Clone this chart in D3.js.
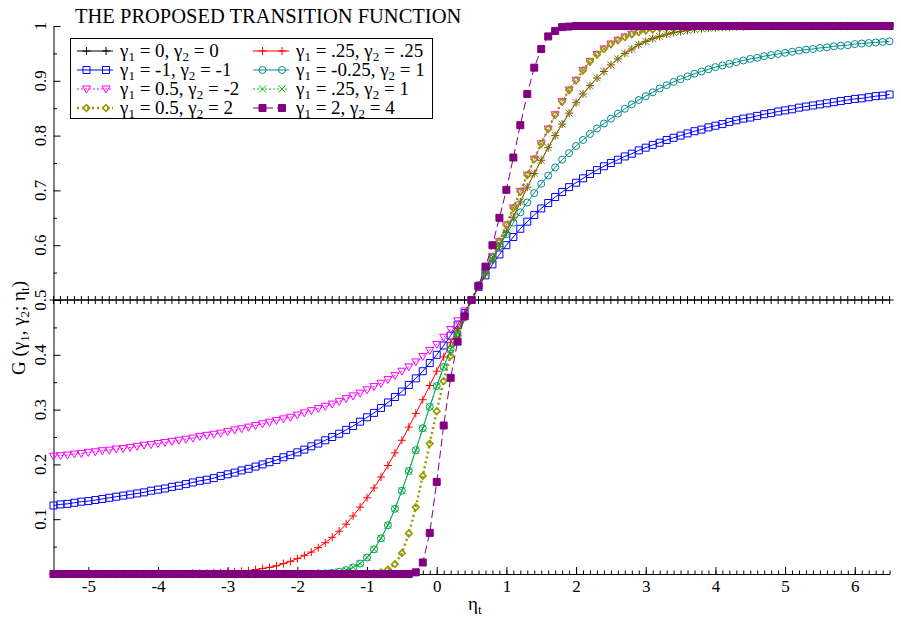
<!DOCTYPE html>
<html>
<head>
<meta charset="utf-8">
<script src="https://d3js.org/d3.v7.min.js"></script>
<style>
  body { margin: 0; background: #fff; }
  svg { display: block; font-family: "Liberation Serif", "Times New Roman", serif; }
</style>
</head>
<body>
<svg id="chart" width="901" height="619"></svg>
<script>
// eta grid (x values of every marker)
var eta = [
 -5.5,-5.4,-5.3,-5.2,-5.1,-5.0,-4.9,-4.8,-4.7,-4.6,
 -4.5,-4.4,-4.3,-4.2,-4.1,-4.0,-3.9,-3.8,-3.7,-3.6,
 -3.5,-3.4,-3.3,-3.2,-3.1,-3.0,-2.9,-2.8,-2.7,-2.6,
 -2.5,-2.4,-2.3,-2.2,-2.1,-2.0,-1.9,-1.8,-1.7,-1.6,
 -1.5,-1.4,-1.3,-1.2,-1.1,-1.0,-0.9,-0.8,-0.7,-0.6,
 -0.5,-0.4,-0.3,-0.2,-0.1,0.0,0.1,0.2,0.3,0.4,
 0.5,
 0.6,0.7,0.8,0.9,1.0,1.1,1.2,1.3,1.4,1.5,
 1.6,1.7,1.8,1.9,2.0,2.1,2.2,2.3,2.4,2.5,
 2.6,2.7,2.8,2.9,3.0,3.1,3.2,3.3,3.4,3.5,
 3.6,3.7,3.8,3.9,4.0,4.1,4.2,4.3,4.4,4.5,
 4.6,4.7,4.8,4.9,5.0,5.1,5.2,5.3,5.4,5.5,
 5.6,5.7,5.8,5.9,6.0,6.1,6.2,6.3,6.4,6.5
];

// gamma1 = 0, gamma2 = 0
var g_0_0 = [
 0.5,0.5,0.5,0.5,0.5,0.5,0.5,0.5,0.5,0.5,
 0.5,0.5,0.5,0.5,0.5,0.5,0.5,0.5,0.5,0.5,
 0.5,0.5,0.5,0.5,0.5,0.5,0.5,0.5,0.5,0.5,
 0.5,0.5,0.5,0.5,0.5,0.5,0.5,0.5,0.5,0.5,
 0.5,0.5,0.5,0.5,0.5,0.5,0.5,0.5,0.5,0.5,
 0.5,0.5,0.5,0.5,0.5,0.5,0.5,0.5,0.5,0.5,
 0.5,
 0.5,0.5,0.5,0.5,0.5,0.5,0.5,0.5,0.5,0.5,
 0.5,0.5,0.5,0.5,0.5,0.5,0.5,0.5,0.5,0.5,
 0.5,0.5,0.5,0.5,0.5,0.5,0.5,0.5,0.5,0.5,
 0.5,0.5,0.5,0.5,0.5,0.5,0.5,0.5,0.5,0.5,
 0.5,0.5,0.5,0.5,0.5,0.5,0.5,0.5,0.5,0.5,
 0.5,0.5,0.5,0.5,0.5,0.5,0.5,0.5,0.5,0.5
];

// gamma1 = -1, gamma2 = -1
var g_m1_m1 = [
 0.125,0.127,0.128,0.130,0.132,0.133,0.135,0.137,0.139,0.141,
 0.143,0.145,0.147,0.149,0.152,0.154,0.156,0.159,0.161,0.164,
 0.167,0.170,0.172,0.175,0.179,0.182,0.185,0.189,0.192,0.196,
 0.200,0.204,0.208,0.213,0.217,0.222,0.227,0.233,0.238,0.244,
 0.250,0.256,0.263,0.270,0.278,0.286,0.294,0.303,0.313,0.323,
 0.333,0.345,0.357,0.370,0.385,0.400,0.417,0.435,0.455,0.476,
 0.500,
 0.524,0.545,0.565,0.583,0.600,0.615,0.630,0.643,0.655,0.667,
 0.677,0.688,0.697,0.706,0.714,0.722,0.730,0.737,0.744,0.750,
 0.756,0.762,0.767,0.773,0.778,0.783,0.787,0.792,0.796,0.800,
 0.804,0.808,0.811,0.815,0.818,0.821,0.825,0.828,0.831,0.833,
 0.836,0.839,0.841,0.844,0.846,0.848,0.851,0.853,0.855,0.857,
 0.859,0.861,0.863,0.865,0.867,0.868,0.870,0.872,0.873,0.875
];

// gamma1 = 0.5, gamma2 = -2
var g_05_m2 = [
 0.215,0.216,0.217,0.219,0.220,0.222,0.223,0.225,0.226,0.228,
 0.229,0.231,0.233,0.235,0.236,0.238,0.240,0.242,0.244,0.246,
 0.248,0.251,0.253,0.255,0.257,0.260,0.263,0.265,0.268,0.271,
 0.274,0.277,0.280,0.283,0.286,0.290,0.294,0.298,0.302,0.306,
 0.310,0.315,0.320,0.325,0.330,0.336,0.342,0.348,0.355,0.362,
 0.370,0.378,0.387,0.397,0.408,0.419,0.432,0.446,0.462,0.480,
 0.500,
 0.525,0.551,0.579,0.607,0.637,0.668,0.698,0.728,0.757,0.785,
 0.812,0.838,0.862,0.883,0.901,0.919,0.935,0.948,0.958,0.967,
 0.974,0.980,0.985,0.989,0.992,0.994,0.996,0.997,0.998,0.998,
 0.999,0.999,1,1,1,1,1,1,1,1,
 1,1,1,1,1,1,1,1,1,1,
 1,1,1,1,1,1,1,1,1,1
];

// gamma1 = 0.5, gamma2 = 2
var g_05_2 = [
 0,0,0,0,0,0,0,0,0,0,
 0,0,0,0,0,0,0,0,0,0,
 0,0,0,0,0,0,0,0,0,0,
 0,0,0,0,0,0,0,0,0,0,
 0,0,0,0,0,0,0.001,0.003,0.008,0.018,
 0.038,0.074,0.122,0.179,0.238,0.297,0.352,0.398,0.435,0.468,
 0.500,
 0.525,0.551,0.579,0.607,0.637,0.668,0.698,0.728,0.757,0.785,
 0.812,0.838,0.862,0.883,0.901,0.919,0.935,0.948,0.958,0.967,
 0.974,0.980,0.985,0.989,0.992,0.994,0.996,0.997,0.998,0.998,
 0.999,0.999,1,1,1,1,1,1,1,1,
 1,1,1,1,1,1,1,1,1,1,
 1,1,1,1,1,1,1,1,1,1
];

// gamma1 = .25, gamma2 = .25
var g_025_025 = [
 0,0,0,0,0,0,0,0,0,0,
 0,0,0,0,0,0,0,0,0,0,
 0.001,0.001,0.001,0.002,0.002,0.003,0.004,0.005,0.006,0.008,
 0.010,0.012,0.015,0.019,0.023,0.028,0.034,0.040,0.048,0.057,
 0.067,0.078,0.091,0.106,0.122,0.139,0.157,0.177,0.198,0.221,
 0.244,0.268,0.293,0.318,0.344,0.370,0.396,0.422,0.448,0.474,
 0.500,
 0.524,0.548,0.573,0.598,0.623,0.651,0.679,0.706,0.731,0.755,
 0.778,0.800,0.821,0.841,0.860,0.876,0.891,0.905,0.917,0.929,
 0.940,0.950,0.958,0.966,0.972,0.977,0.981,0.985,0.988,0.990,
 0.992,0.994,0.995,0.996,0.997,0.998,0.998,0.999,0.999,1,
 1,1,1,1,1,1,1,1,1,1,
 1,1,1,1,1,1,1,1,1,1
];

// gamma1 = -0.25, gamma2 = 1
var g_m025_1 = [
 0,0,0,0,0,0,0,0,0,0,
 0,0,0,0,0,0,0,0,0,0,
 0,0,0,0,0,0,0,0,0,0,
 0,0,0,0,0,0,0,0,0.001,0.001,
 0.002,0.004,0.007,0.012,0.019,0.030,0.045,0.065,0.089,0.119,
 0.152,0.188,0.226,0.266,0.305,0.343,0.378,0.410,0.440,0.471,
 0.500,
 0.527,0.553,0.576,0.598,0.620,0.641,0.660,0.678,0.695,0.712,
 0.727,0.742,0.756,0.768,0.781,0.792,0.803,0.813,0.822,0.831,
 0.840,0.849,0.857,0.865,0.872,0.879,0.886,0.892,0.898,0.903,
 0.908,0.913,0.917,0.921,0.925,0.928,0.931,0.934,0.937,0.940,
 0.942,0.945,0.947,0.949,0.951,0.953,0.955,0.957,0.958,0.960,
 0.961,0.963,0.964,0.965,0.967,0.968,0.969,0.970,0.971,0.972
];

// gamma1 = .25, gamma2 = 1
var g_025_1 = [
 0,0,0,0,0,0,0,0,0,0,
 0,0,0,0,0,0,0,0,0,0,
 0,0,0,0,0,0,0,0,0,0,
 0,0,0,0,0,0,0,0,0.001,0.001,
 0.002,0.004,0.007,0.012,0.019,0.030,0.045,0.065,0.089,0.119,
 0.152,0.188,0.226,0.266,0.305,0.343,0.378,0.410,0.440,0.471,
 0.500,
 0.524,0.548,0.573,0.598,0.623,0.651,0.679,0.706,0.731,0.755,
 0.778,0.800,0.821,0.841,0.860,0.876,0.891,0.905,0.917,0.929,
 0.940,0.950,0.958,0.966,0.972,0.977,0.981,0.985,0.988,0.990,
 0.992,0.994,0.995,0.996,0.997,0.998,0.998,0.999,0.999,1,
 1,1,1,1,1,1,1,1,1,1,
 1,1,1,1,1,1,1,1,1,1
];

// gamma1 = 2, gamma2 = 4
var g_2_4 = [
 0,0,0,0,0,0,0,0,0,0,
 0,0,0,0,0,0,0,0,0,0,
 0,0,0,0,0,0,0,0,0,0,
 0,0,0,0,0,0,0,0,0,0,
 0,0,0,0,0,0,0,0,0,0,
 0,0,0.003,0.021,0.075,0.168,0.271,0.358,0.424,0.470,
 0.500,
 0.526,0.561,0.600,0.650,0.701,0.760,0.819,0.876,0.924,0.958,
 0.981,0.991,0.998,0.999,1,1,1,1,1,1,
 1,1,1,1,1,1,1,1,1,1,
 1,1,1,1,1,1,1,1,1,1,
 1,1,1,1,1,1,1,1,1,1,
 1,1,1,1,1,1,1,1,1,1
];

var gamma1Labels = ["0", "-1", "0.5", "0.5", ".25", "-0.25", ".25", "2"];
var gamma2Labels = ["0", "-1", "-2", "2", ".25", "1", "1", "4"];
var xTickLabels = [-5, -4, -3, -2, -1, 0, 1, 2, 3, 4, 5, 6];
var yTickLabels = [0.1, 0.2, 0.3, 0.4, 0.5, 0.6, 0.7, 0.8, 0.9, 1];

var seriesValues = [g_0_0, g_m1_m1, g_05_m2, g_05_2, g_025_025, g_m025_1, g_025_1, g_2_4];

// look of each curve
var looks = [
  {color: "#000000", dash: null,  width: 1,   marker: "plus"},
  {color: "#0000ff", dash: null,  width: 1,   marker: "square"},
  {color: "#ff00ff", dash: "2,2", width: 1,   marker: "triDown"},
  {color: "#999900", dash: "2,3", width: 2.5, marker: "diamond"},
  {color: "#ff0000", dash: null,  width: 1,   marker: "plus"},
  {color: "#008b8b", dash: null,  width: 1,   marker: "circle"},
  {color: "#00c000", dash: "2,2", width: 1,   marker: "times"},
  {color: "#800080", dash: "8,4", width: 1,   marker: "fsquare"}
];

var markerPath = {
  plus:    "M-4,0H4M0,-4V4",
  times:   "M-3.5,-3.5L3.5,3.5M-3.5,3.5L3.5,-3.5",
  square:  "M-3.5,-3.5h7v7h-7Z",
  fsquare: "M-3.5,-3.5h7v7h-7Z",
  triDown: "M-4,-3L4,-3L0,4Z",
  diamond: "M0,-3.3L3.3,0L0,3.3L-3.3,0Z",
  circle:  "M3.5,0A3.5,3.5 0 1 1 -3.5,0A3.5,3.5 0 1 1 3.5,0Z"
};

function styleMarker(sel, lk) {
  sel.attr("d", markerPath[lk.marker])
    .attr("stroke", lk.color)
    .attr("stroke-width", lk.marker == "diamond" ? 1.6 : 1)
    .attr("fill", lk.marker == "fsquare" ? lk.color : "none");
}

var svg = d3.select("#chart");
var serif = "Liberation Serif, Times New Roman, serif";

var x = d3.scaleLinear().domain([-5.5, 6.5]).range([53.5, 889.6]);
var y = d3.scaleLinear().domain([0, 1]).range([574, 26]);

// ---- axes ----
var minorX = d3.range(-55, 66).map(function(i){ return i / 10; });
svg.append("g").attr("transform", "translate(0,574)")
  .call(d3.axisBottom(x).tickValues(minorX).tickSize(-3.5).tickSizeOuter(0).tickFormat(""))
  .call(function(g){ g.select(".domain").remove(); });

var xAxis = svg.append("g").attr("transform", "translate(0,574)")
  .call(d3.axisBottom(x).tickValues(xTickLabels).tickSize(-7).tickSizeOuter(0).tickPadding(6)
        .tickFormat(function(d){ return String(d); }));
xAxis.attr("font-family", serif).attr("font-size", 17);
xAxis.selectAll("text").attr("fill", "#000");
xAxis.select(".domain").attr("stroke", "#000");

var minorY = d3.range(1, 20, 2).map(function(i){ return i / 20; });
svg.append("g").attr("transform", "translate(53.5,0)")
  .call(d3.axisLeft(y).tickValues(minorY).tickSize(-3.5).tickSizeOuter(0).tickFormat(""))
  .call(function(g){ g.select(".domain").remove(); });

var yAxis = svg.append("g").attr("transform", "translate(53.5,0)")
  .call(d3.axisLeft(y).tickValues(yTickLabels).tickSize(-7).tickSizeOuter(0).tickFormat(""));
yAxis.select(".domain").attr("stroke", "#000");

svg.append("g").selectAll("text").data(yTickLabels).enter().append("text")
  .attr("transform", function(d){ return "translate(46," + y(d) + ") rotate(-90)"; })
  .attr("text-anchor", "middle")
  .attr("font-size", 17)
  .text(function(d){ return d == 1 ? "1" : d3.format(".1f")(d); });

// ---- curves ----
var line = d3.line()
  .x(function(d, i){ return x(eta[i]); })
  .y(function(d){ return y(d); });

seriesValues.forEach(function(vals, k){
  var lk = looks[k];
  var g = svg.append("g");
  g.append("path").datum(vals)
    .attr("d", line)
    .attr("fill", "none")
    .attr("stroke", lk.color)
    .attr("stroke-width", lk.width)
    .attr("stroke-dasharray", lk.dash);
  g.selectAll("path.mk").data(vals).enter().append("path")
    .attr("class", "mk")
    .attr("transform", function(d, i){ return "translate(" + x(eta[i]) + "," + y(d) + ")"; })
    .call(styleMarker, lk);
});

// ---- title ----
svg.append("text").attr("x", 75).attr("y", 23).attr("font-size", 20.5).text("THE PROPOSED TRANSITION FUNCTION");

// ---- legend ----
var legend = svg.append("g");
legend.append("rect").attr("x", 70.5).attr("y", 38.5).attr("width", 362).attr("height", 80)
  .attr("fill", "#fff").attr("stroke", "#000");

looks.forEach(function(lk, k){
  var col = Math.floor(k / 4), row = k % 4;
  var x0 = col == 0 ? 77 : 253;
  var yy = 51 + row * 19;
  legend.append("line").attr("x1", x0).attr("x2", x0 + 36).attr("y1", yy).attr("y2", yy)
    .attr("stroke", lk.color).attr("stroke-width", lk.width).attr("stroke-dasharray", lk.dash);
  [x0 + 9.5, x0 + 29].forEach(function(mx){
    legend.append("path").attr("transform", "translate(" + mx + "," + yy + ")").call(styleMarker, lk);
  });
  var t = legend.append("text").attr("x", x0 + 43).attr("y", yy + 6).attr("font-size", 19);
  t.append("tspan").text("\u03b3");
  t.append("tspan").attr("font-size", 13).attr("dy", 4).text("1");
  t.append("tspan").attr("dy", -4).text(" = " + gamma1Labels[k] + ", \u03b3");
  t.append("tspan").attr("font-size", 13).attr("dy", 4).text("2");
  t.append("tspan").attr("dy", -4).text(" = " + gamma2Labels[k]);
});

// ---- axis titles ----
var xt = svg.append("text").attr("x", 468).attr("y", 610).attr("font-size", 19);
xt.append("tspan").text("\u03b7");
xt.append("tspan").attr("font-size", 13).attr("dy", 4).text("t");

var yt = svg.append("text").attr("transform", "translate(25,328) rotate(-90)")
  .attr("text-anchor", "middle").attr("font-size", 19);
yt.append("tspan").text("G (\u03b3");
yt.append("tspan").attr("font-size", 13).attr("dy", 4).text("1");
yt.append("tspan").attr("dy", -4).text(", \u03b3");
yt.append("tspan").attr("font-size", 13).attr("dy", 4).text("2");
yt.append("tspan").attr("dy", -4).text("; \u03b7");
yt.append("tspan").attr("font-size", 13).attr("dy", 4).text("t");
yt.append("tspan").attr("dy", -4).text(")");
</script>
</body>
</html>
